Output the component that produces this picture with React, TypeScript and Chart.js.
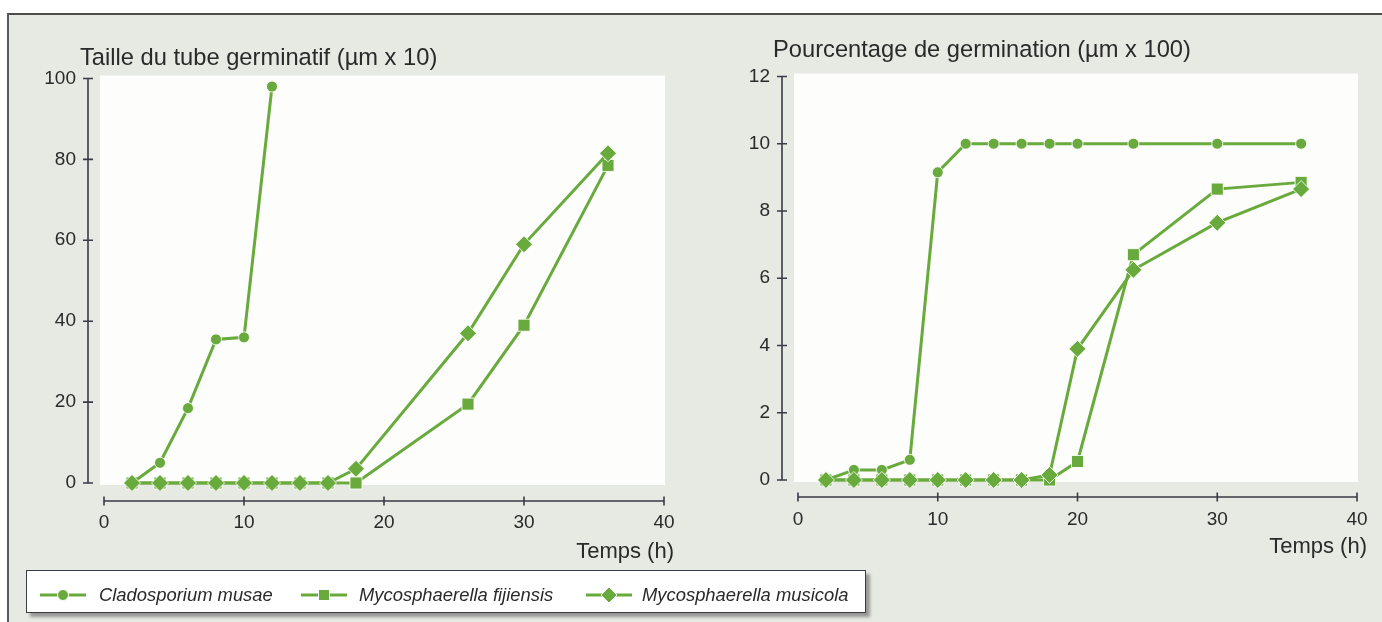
import React, { useEffect, useRef } from 'react';
import { Chart, registerables } from 'chart.js';

Chart.register(...registerables);

const GREEN = '#68aa3b';
const AXIS = '#3a3a46';
const TEXT = '#2a2a2a';
const PANEL_BG = '#e7e9e3';
const PLOT_BG = '#fdfdfc';
const FONT = "'Liberation Sans', Arial, Helvetica, sans-serif";

const seriesNames = ['Cladosporium musae', 'Mycosphaerella fijiensis', 'Mycosphaerella musicola'];
const xAxisTitle = 'Temps (h)';

// Left chart: Taille du tube germinatif
const tailleTitle = 'Taille du tube germinatif (µm x 10)';
const tailleClaX = [2, 4, 6, 8, 10, 12];
const tailleClaY = [0, 5, 18.5, 35.5, 36, 98];
const tailleFijX = [2, 4, 6, 8, 10, 12, 14, 16, 18, 26, 30, 36];
const tailleFijY = [0, 0, 0, 0, 0, 0, 0, 0, 0, 19.5, 39, 78.5];
const tailleMusX = [2, 4, 6, 8, 10, 12, 14, 16, 18, 26, 30, 36];
const tailleMusY = [0, 0, 0, 0, 0, 0, 0, 0, 3.5, 37, 59, 81.5];
const tailleYMax = 100;
const tailleYStep = 20;

// Right chart: Pourcentage de germination
const pctTitle = 'Pourcentage de germination (µm x 100)';
const pctClaX = [2, 4, 6, 8, 10, 12, 14, 16, 18, 20, 24, 30, 36];
const pctClaY = [0, 0.3, 0.3, 0.6, 9.15, 10, 10, 10, 10, 10, 10, 10, 10];
const pctFijX = [2, 4, 6, 8, 10, 12, 14, 16, 18, 20, 24, 30, 36];
const pctFijY = [0, 0, 0, 0, 0, 0, 0, 0, 0, 0.55, 6.7, 8.65, 8.85];
const pctMusX = [2, 4, 6, 8, 10, 12, 14, 16, 18, 20, 24, 30, 36];
const pctMusY = [0, 0, 0, 0, 0, 0, 0, 0, 0.15, 3.9, 6.25, 7.65, 8.65];
const pctYMax = 12;
const pctYStep = 2;

const xMin = 0;
const xMaxTick = 40;
const xStep = 10;

const pts = (xs: number[], ys: number[]) => xs.map((x, i) => ({ x, y: ys[i] }));

const offsetAxesPlugin = {
  id: 'offsetAxes',
  afterLayout(chart: any, _args: any, opts: any) {
    const tb = chart.titleBlock;
    if (tb) {
      const w = tb.right - tb.left;
      tb.left = opts.titleX;
      tb.right = opts.titleX + w;
    }
  },
  beforeDraw(chart: any, _args: any, opts: any) {
    const { ctx, scales } = chart;
    const x = scales.x;
    const y = scales.y;
    const l = x.getPixelForValue(xMin) - 4;
    const r = x.getPixelForValue(xMaxTick) + 1;
    const t = y.getPixelForValue(opts.yMax) - 3;
    const b = y.getPixelForValue(0) + 2;
    ctx.save();
    ctx.fillStyle = PLOT_BG;
    ctx.fillRect(l, t, r - l, b - t);
    ctx.restore();
  },
  beforeDatasetsDraw(chart: any, _args: any, opts: any) {
    const { ctx, scales } = chart;
    const x = scales.x;
    const y = scales.y;
    const x0 = x.getPixelForValue(xMin);
    const x1 = x.getPixelForValue(xMaxTick);
    const y0 = y.getPixelForValue(0);
    const y1 = y.getPixelForValue(opts.yMax);
    const ax = x0 - opts.yGap;
    const ay = y0 + opts.xGap;
    ctx.save();
    ctx.strokeStyle = AXIS;
    ctx.lineWidth = 1.6;
    ctx.beginPath();
    ctx.moveTo(ax, y0);
    ctx.lineTo(ax, y1);
    y.ticks.forEach((tk: any) => {
      const p = y.getPixelForValue(tk.value);
      ctx.moveTo(ax - 5, p);
      ctx.lineTo(ax + 5, p);
    });
    ctx.moveTo(x0, ay);
    ctx.lineTo(x1, ay);
    x.ticks.forEach((tk: any) => {
      const p = x.getPixelForValue(tk.value);
      ctx.moveTo(p, ay - 4.5);
      ctx.lineTo(p, ay + 4.5);
    });
    ctx.stroke();
    ctx.restore();
  },
};

function makeDataset(label: string, data: any[], style: string, radius: number, order: number) {
  return {
    label,
    data,
    borderColor: GREEN,
    backgroundColor: GREEN,
    borderWidth: 3,
    pointStyle: style,
    pointRadius: radius,
    pointHoverRadius: radius,
    pointBackgroundColor: GREEN,
    pointBorderColor: 'rgba(255,255,255,0.85)',
    pointBorderWidth: 1,
    tension: 0,
    clip: false,
    order,
  };
}

function buildConfig(p: any) {
  return {
    type: 'line',
    data: {
      datasets: [
        makeDataset(seriesNames[0], pts(p.cla[0], p.cla[1]), 'circle', 5.5, 1),
        makeDataset(seriesNames[1], pts(p.fij[0], p.fij[1]), 'rect', 8.5, 2),
        makeDataset(seriesNames[2], pts(p.mus[0], p.mus[1]), 'rectRot', 8.5, 0),
      ],
    },
    options: {
      animation: false,
      responsive: false,
      events: [],
      layout: { padding: p.layoutPad },
      plugins: {
        legend: { display: false },
        tooltip: { enabled: false },
        title: {
          display: true,
          text: p.title,
          align: 'start',
          color: TEXT,
          font: { family: FONT, size: 23.7, weight: 'normal' },
          padding: p.titlePad,
        },
        offsetAxes: { yMax: p.yMax, yGap: p.yGap, xGap: p.xGap, titleX: p.titleX },
      },
      scales: {
        x: {
          type: 'linear',
          min: xMin,
          max: xMaxTick + p.xExtra,
          grid: { display: false, drawTicks: false },
          border: { display: false },
          ticks: {
            stepSize: xStep,
            includeBounds: false,
            padding: 28,
            color: TEXT,
            maxRotation: 0,
            font: { family: FONT, size: 19 },
          },
          title: {
            display: true,
            text: xAxisTitle,
            align: 'end',
            color: TEXT,
            font: { family: FONT, size: 22 },
            padding: { top: 0, bottom: p.xTitlePad },
          },
          afterFit: (s: any) => {
            s.height = 90;
          },
        },
        y: {
          type: 'linear',
          min: 0,
          max: p.yMax,
          grid: { display: false, drawTicks: false },
          border: { display: false },
          ticks: {
            stepSize: p.yStep,
            padding: 28,
            color: TEXT,
            font: { family: FONT, size: 19 },
          },
          afterFit: (s: any) => {
            s.width = p.yWidth;
          },
        },
      },
    },
    plugins: [offsetAxesPlugin],
  };
}

function ChartCanvas({ config, left, top, width, height }: any) {
  const ref = useRef<HTMLCanvasElement | null>(null);
  useEffect(() => {
    if (!ref.current) return;
    const chart = new Chart(ref.current, config as any);
    return () => chart.destroy();
  }, []);
  return (
    <canvas
      ref={ref}
      width={width}
      height={height}
      style={{ position: 'absolute', left, top, width, height }}
    />
  );
}

function LegendMarker({ kind }: { kind: string }) {
  let mark: any = null;
  if (kind === 'circle') mark = <circle cx={23} cy={10} r={5.5} fill={GREEN} stroke="#fff" strokeWidth={1} />;
  else if (kind === 'rect') mark = <rect x={17.5} y={4.5} width={11} height={11} fill={GREEN} stroke="#fff" strokeWidth={1} />;
  else mark = <polygon points="23,2 31,10 23,18 15,10" fill={GREEN} stroke="#fff" strokeWidth={1} />;
  return (
    <svg width={46} height={20} style={{ display: 'block' }}>
      <line x1={0} y1={10} x2={46} y2={10} stroke={GREEN} strokeWidth={3} />
      {mark}
    </svg>
  );
}

const legendItems = [
  { name: seriesNames[0], kind: 'circle', markerLeft: 13, textLeft: 72 },
  { name: seriesNames[1], kind: 'rect', markerLeft: 274, textLeft: 332 },
  { name: seriesNames[2], kind: 'diamond', markerLeft: 559, textLeft: 615 },
];

export default function App() {
  const leftConfig = buildConfig({
    title: tailleTitle,
    cla: [tailleClaX, tailleClaY],
    fij: [tailleFijX, tailleFijY],
    mus: [tailleMusX, tailleMusY],
    yMax: tailleYMax,
    yStep: tailleYStep,
    layoutPad: { left: 0, right: 30, top: 0, bottom: 0 },
    titlePad: { top: 24, bottom: 6 },
    titleX: 60,
    yWidth: 84,
    xExtra: 10 / 14,
    xTitlePad: 8,
    yGap: 16,
    xGap: 18,
  });
  const rightConfig = buildConfig({
    title: pctTitle,
    cla: [pctClaX, pctClaY],
    fij: [pctFijX, pctFijY],
    mus: [pctMusX, pctMusY],
    yMax: pctYMax,
    yStep: pctYStep,
    layoutPad: { left: 0, right: 30, top: 0, bottom: 0 },
    titlePad: { top: 22, bottom: 12 },
    titleX: 73,
    yWidth: 98,
    xExtra: 10 / 14,
    xTitlePad: 10,
    yGap: 16,
    xGap: 17,
  });

  return (
    <div
      style={{
        position: 'fixed',
        left: 0,
        top: 0,
        width: 1382,
        height: 622,
        background: '#ffffff',
        overflow: 'hidden',
        fontFamily: FONT,
      }}
    >
      <div
        style={{
          position: 'absolute',
          left: 7,
          top: 13,
          right: 0,
          bottom: 0,
          background: PANEL_BG,
          borderTop: '2px solid #4d4d4d',
          borderLeft: '2px solid #5a5a5a',
        }}
      />
      <ChartCanvas config={leftConfig} left={20} top={20} width={684} height={553} />
      <ChartCanvas config={rightConfig} left={700} top={14} width={697} height={556} />
      <div
        style={{
          position: 'absolute',
          left: 26,
          top: 570,
          width: 840,
          height: 43,
          boxSizing: 'border-box',
          background: '#ffffff',
          border: '1px solid #3c3c44',
          boxShadow: '4px 4px 3px rgba(0,0,0,0.35)',
        }}
      >
        {legendItems.map((it) => (
          <React.Fragment key={it.name}>
            <div style={{ position: 'absolute', left: it.markerLeft, top: 14 }}>
              <LegendMarker kind={it.kind} />
            </div>
            <div
              style={{
                position: 'absolute',
                left: it.textLeft,
                top: 12,
                height: 24,
                lineHeight: '24px',
                fontSize: 18.4,
                fontStyle: 'italic',
                color: TEXT,
                whiteSpace: 'nowrap',
              }}
            >
              {it.name}
            </div>
          </React.Fragment>
        ))}
      </div>
    </div>
  );
}
